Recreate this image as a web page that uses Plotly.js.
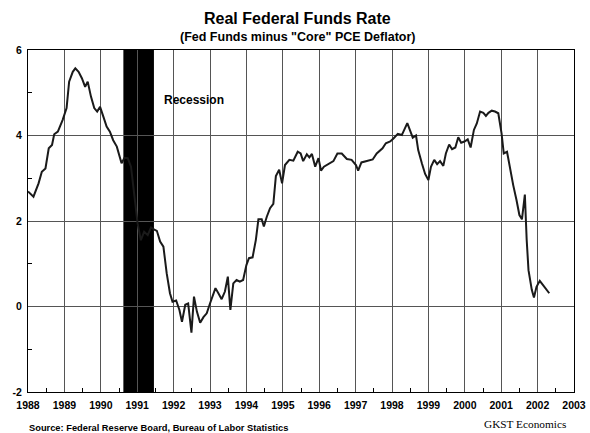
<!DOCTYPE html>
<html>
<head>
<meta charset="utf-8">
<script src="https://cdn.plot.ly/plotly-3.0.1.min.js"></script>
<style>
  html, body { margin: 0; padding: 0; background: #fff; }
  #chart { width: 590px; height: 433px; }
</style>
</head>
<body>
<div id="chart"></div>
<script>
// Decimal-year positions and real fed funds rate (%)
const years = [
  1988.00, 1988.15, 1988.29, 1988.38, 1988.48, 1988.57, 1988.66, 1988.72, 1988.82, 1988.95,
  1989.06, 1989.13, 1989.23, 1989.30, 1989.39, 1989.48, 1989.57, 1989.64, 1989.73, 1989.82,
  1989.90, 1989.98, 1990.07, 1990.16, 1990.25, 1990.34, 1990.44, 1990.51, 1990.57, 1990.65,
  1990.74, 1990.83, 1990.92, 1991.01, 1991.10, 1991.19, 1991.29, 1991.38, 1991.47, 1991.54,
  1991.63, 1991.72, 1991.81, 1991.90, 1991.97, 1992.07, 1992.16, 1992.23, 1992.32, 1992.40,
  1992.49, 1992.56, 1992.64, 1992.73, 1992.82, 1992.91, 1993.00, 1993.15, 1993.23, 1993.32,
  1993.41, 1993.49, 1993.56, 1993.64, 1993.73, 1993.82, 1993.91, 1994.00, 1994.07, 1994.17,
  1994.26, 1994.33, 1994.42, 1994.48, 1994.56, 1994.65, 1994.74, 1994.81, 1994.90, 1994.98,
  1995.06, 1995.18, 1995.29, 1995.41, 1995.49, 1995.56, 1995.66, 1995.73, 1995.80, 1995.89,
  1995.98, 1996.05, 1996.13, 1996.25, 1996.39, 1996.50, 1996.62, 1996.76, 1996.89, 1997.01,
  1997.07, 1997.16, 1997.30, 1997.47, 1997.58, 1997.74, 1997.83, 1997.95, 1998.04, 1998.16,
  1998.27, 1998.42, 1998.49, 1998.57, 1998.66, 1998.72, 1998.82, 1998.91, 1999.00, 1999.07,
  1999.16, 1999.24, 1999.32, 1999.41, 1999.48, 1999.57, 1999.65, 1999.74, 1999.82, 1999.90,
  1999.99, 2000.08, 2000.16, 2000.25, 2000.33, 2000.42, 2000.51, 2000.58, 2000.65, 2000.74,
  2000.83, 2000.92, 2001.01, 2001.07, 2001.16, 2001.24, 2001.33, 2001.42, 2001.50, 2001.57,
  2001.65, 2001.70, 2001.75, 2001.84, 2001.90, 2001.97, 2002.06, 2002.15, 2002.32
];
const realRate = [
  2.69, 2.57, 2.88, 3.15, 3.23, 3.70, 3.78, 4.03, 4.09, 4.36,
  4.64, 5.26, 5.49, 5.57, 5.49, 5.34, 5.14, 5.26, 4.91, 4.64,
  4.56, 4.67, 4.44, 4.21, 4.09, 3.89, 3.74, 3.54, 3.35, 3.48,
  3.47, 3.27, 2.65, 1.95, 1.55, 1.75, 1.67, 1.85, 1.80, 1.77,
  1.52, 1.40, 0.78, 0.31, 0.11, 0.14, -0.08, -0.36, 0.04, 0.07,
  -0.61, 0.23, -0.12, -0.38, -0.25, -0.16, 0.07, 0.43, 0.31, 0.17,
  0.35, 0.70, -0.08, 0.54, 0.62, 0.58, 0.62, 0.97, 1.13, 1.15,
  1.56, 2.04, 2.04, 1.87, 2.10, 2.30, 2.40, 3.05, 3.20, 2.88,
  3.31, 3.43, 3.41, 3.62, 3.58, 3.40, 3.56, 3.49, 3.57, 3.27,
  3.47, 3.18, 3.27, 3.33, 3.40, 3.58, 3.58, 3.45, 3.43, 3.31,
  3.18, 3.37, 3.40, 3.44, 3.58, 3.70, 3.82, 3.86, 3.93, 4.04,
  4.01, 4.29, 4.13, 3.95, 4.00, 3.66, 3.35, 3.10, 2.96, 3.27,
  3.43, 3.33, 3.40, 3.29, 3.58, 3.79, 3.68, 3.72, 3.96, 3.83,
  3.86, 3.91, 3.72, 4.13, 4.28, 4.56, 4.53, 4.46, 4.53, 4.58,
  4.56, 4.52, 4.05, 3.58, 3.62, 3.23, 2.84, 2.49, 2.14, 2.04,
  2.62, 1.56, 0.85, 0.39, 0.21, 0.46, 0.60, 0.50, 0.31
];
const recession = [1990.62, 1991.46];
const xTickVals = [1988, 1989, 1990, 1991, 1992, 1993, 1994, 1995, 1996, 1997, 1998, 1999, 2000, 2001, 2002, 2003];
const xTickText = xTickVals.map(String);
const yTickVals = [-2, 0, 2, 4, 6];
const yTickText = ['-2', '0', '2', '4', '6'];

const sans = '"Liberation Sans", Arial, Helvetica, sans-serif';
const serif = '"Liberation Serif", "Times New Roman", serif';

const trace = {
  x: years,
  y: realRate,
  type: 'scatter',
  mode: 'lines',
  line: { color: '#1a1a1a', width: 2 },
  hoverinfo: 'skip'
};

const layout = {
  width: 590,
  height: 433,
  margin: { l: 28, r: 16, t: 50, b: 41 },
  paper_bgcolor: '#ffffff',
  plot_bgcolor: '#ffffff',
  showlegend: false,
  font: { family: sans, color: '#000' },
  xaxis: {
    range: [1988, 2003],
    tickmode: 'array',
    tickvals: xTickVals,
    ticktext: xTickText,
    ticks: '',
    ticklabelstandoff: 3,
    showgrid: true,
    gridcolor: '#555',
    gridwidth: 1,
    zeroline: false,
    showline: true,
    linecolor: '#000',
    linewidth: 1,
    mirror: true,
    tickfont: { family: sans, size: 10.5, color: '#000', weight: 'bold' },
    minor: { tickvals: [1988.5,1989.5,1990.5,1991.5,1992.5,1993.5,1994.5,1995.5,1996.5,1997.5,1998.5,1999.5,2000.5,2001.5,2002.5], ticks: 'inside', ticklen: 4, tickcolor: '#000', showgrid: false }
  },
  yaxis: {
    range: [-2, 6],
    tickmode: 'array',
    tickvals: yTickVals,
    ticktext: yTickText,
    ticks: '',
    ticklabelstandoff: 3,
    showgrid: true,
    gridcolor: '#555',
    gridwidth: 1,
    zeroline: false,
    showline: true,
    linecolor: '#000',
    linewidth: 1,
    mirror: true,
    tickfont: { family: sans, size: 10.5, color: '#000', weight: 'bold' },
    minor: { tickvals: [-1, 1, 3, 5], ticks: 'inside', ticklen: 4, tickcolor: '#000', showgrid: false }
  },
  shapes: [
    {
      type: 'rect', xref: 'x', yref: 'paper',
      x0: recession[0], x1: recession[1], y0: 0, y1: 1,
      fillcolor: '#000', line: { width: 0 }, layer: 'below'
    }
  ],
  annotations: [
    {
      text: '<b>Real Federal Funds Rate</b>',
      xref: 'paper', yref: 'paper', x: 0.4927, y: 1.092,
      xanchor: 'center', yanchor: 'middle', showarrow: false,
      font: { family: sans, size: 16, color: '#000' }
    },
    {
      text: '<b>(Fed Funds minus "Core" PCE Deflator)</b>',
      xref: 'paper', yref: 'paper', x: 0.4927, y: 1.038,
      xanchor: 'center', yanchor: 'middle', showarrow: false,
      font: { family: sans, size: 12.5, color: '#000' }
    },
    {
      text: '<b>Recession</b>',
      xref: 'x', yref: 'y', x: 1991.68, y: 4.83,
      xanchor: 'left', yanchor: 'middle', showarrow: false,
      font: { family: sans, size: 12, color: '#000' }
    },
    {
      text: '<b>Source: Federal Reserve Board, Bureau of Labor Statistics</b>',
      xref: 'paper', yref: 'paper', x: -0.002, y: -0.105,
      xanchor: 'left', yanchor: 'middle', showarrow: false,
      font: { family: sans, size: 9.3, color: '#000' }
    },
    {
      text: 'GKST Economics',
      xref: 'paper', yref: 'paper', x: 0.989, y: -0.093,
      xanchor: 'right', yanchor: 'middle', showarrow: false,
      font: { family: serif, size: 11.3, color: '#000' }
    }
  ]
};

Plotly.newPlot('chart', [trace], layout, { displayModeBar: false, staticPlot: true });
</script>
</body>
</html>
